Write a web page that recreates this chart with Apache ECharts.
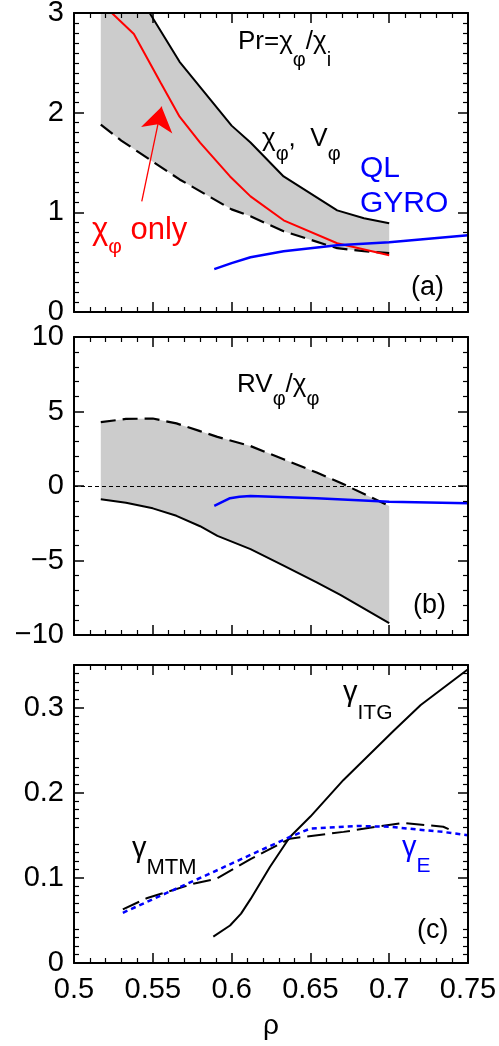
<!DOCTYPE html>
<html>
<head>
<meta charset="utf-8">
<script src="https://cdn.jsdelivr.net/npm/echarts@6/dist/echarts.min.js"></script>
<style>
  html, body { margin: 0; padding: 0; background: #fff; }
  #chart { width: 499px; height: 1046px; }
</style>
</head>
<body>
<div id="chart"></div>
<script>
// ---- panel (a): Pr = chi_phi / chi_i ----
const aBandX    = [0.517, 0.53, 0.548, 0.567, 0.6, 0.612, 0.633, 0.667, 0.684, 0.7];
const aBandLow  = [1.88, 1.72, 1.53, 1.33, 1.03, 0.96, 0.81, 0.64, 0.61, 0.59];   // dashed
const aBandHigh = [3.95, 3.5, 3.0, 2.51, 1.87, 1.70, 1.36, 1.02, 0.94, 0.89];     // solid
const aChiOnlyX = [0.517, 0.524, 0.538, 0.555, 0.567, 0.58, 0.599, 0.612, 0.633, 0.667, 0.7];
const aChiOnly  = [3.1, 3.0, 2.79, 2.30, 1.96, 1.70, 1.36, 1.16, 0.92, 0.69, 0.57];
const aGyroX    = [0.589, 0.6, 0.612, 0.633, 0.667, 0.7, 0.725, 0.75];
const aGyro     = [0.43, 0.49, 0.55, 0.61, 0.67, 0.70, 0.735, 0.77];
const aArrowFrom = [0.543, 1.11];
const aArrowTo   = [0.5556, 2.06];

// ---- panel (b): R V_phi / chi_phi ----
const bBandX    = [0.517, 0.533, 0.55, 0.565, 0.58, 0.591, 0.612, 0.633, 0.654, 0.669, 0.7];
const bBandHigh = [4.29, 4.5, 4.53, 4.2, 3.68, 3.3, 2.68, 1.79, 0.9, 0.22, -1.34];   // dashed
const bBandLow  = [-0.89, -1.12, -1.5, -2.0, -2.7, -3.35, -4.24, -5.35, -6.47, -7.3, -9.2]; // solid
const bGyroX    = [0.589, 0.599, 0.605, 0.612, 0.654, 0.7, 0.75];
const bGyro     = [-1.34, -0.82, -0.72, -0.67, -0.82, -1.05, -1.16];

// ---- panel (c): growth rates ----
const cItgX = [0.5884, 0.599, 0.606, 0.612, 0.6244, 0.637, 0.65, 0.671, 0.703, 0.72, 0.75];
const cItg  = [0.031, 0.044, 0.058, 0.075, 0.113, 0.148, 0.172, 0.215, 0.273, 0.303, 0.345];
const cMtmX = [0.531, 0.546, 0.5757, 0.5905, 0.612, 0.637, 0.671, 0.692, 0.709, 0.7343, 0.738];
const cMtm  = [0.063, 0.076, 0.093, 0.099, 0.122, 0.146, 0.154, 0.160, 0.1645, 0.160, 0.157];
const cEX   = [0.531, 0.5585, 0.585, 0.612, 0.637, 0.65, 0.68, 0.70, 0.734, 0.75];
const cE    = [0.059, 0.082, 0.104, 0.127, 0.148, 0.158, 0.161, 0.160, 0.154, 0.150];
const cTicks = [0, 0.1, 0.2, 0.3];

const FONT = '"Liberation Sans", Arial, Helvetica, sans-serif';
const BLUE = '#0000ff', RED = '#ff0000';

const pts = (xs, ys) => xs.map((x, i) => [x, ys[i]]);
const minus = v => (v < 0 ? '\u2212' + Math.abs(v) : String(v));

function xAxes (grid, showLabels) {
  const base = {
    type: 'value', gridIndex: grid, min: 0.5, max: 0.75, interval: 0.05, z: 10,
    axisLine: { show: true, onZero: false, lineStyle: { color: '#000', width: 2 } },
    axisTick: { show: true, inside: true, length: 10, lineStyle: { color: '#000', width: 1.5 } },
    minorTick: { show: true, splitNumber: 5, length: 5, lineStyle: { color: '#000', width: 1.2 } },
    splitLine: { show: false }
  };
  const bottom = Object.assign({}, base, {
    position: 'bottom',
    axisLabel: showLabels
      ? { show: true, color: '#000', fontSize: 29, fontFamily: FONT, margin: 12 }
      : { show: false }
  });
  if (showLabels) {
    Object.assign(bottom, {
      name: 'ρ', nameLocation: 'middle', nameGap: 49,
      nameTextStyle: { color: '#000', fontSize: 28, fontFamily: FONT }
    });
  }
  const top = Object.assign({}, base, { position: 'top', axisLabel: { show: false } });
  return [bottom, top];
}

function yAxes (grid, opt) {
  const base = Object.assign({
    type: 'value', gridIndex: grid, z: 10,
    axisLine: { show: true, onZero: false, lineStyle: { color: '#000', width: 2 } },
    axisTick: Object.assign({ show: true, inside: true, length: 10, lineStyle: { color: '#000', width: 1.5 } }, opt.tick || {}),
    minorTick: { show: true, splitNumber: opt.minor, length: 5, lineStyle: { color: '#000', width: 1.2 } },
    splitLine: { show: false }
  }, { min: opt.min, max: opt.max, interval: opt.interval });
  const left = Object.assign({}, base, {
    position: 'left',
    axisLabel: Object.assign({ show: true, color: '#000', fontSize: 29, fontFamily: FONT, margin: 10, formatter: minus }, opt.label || {})
  });
  const right = Object.assign({}, base, { position: 'right', axisLabel: { show: false } });
  return [left, right];
}

function line (xs, ys, xi, style, z) {
  return {
    type: 'line', xAxisIndex: xi, yAxisIndex: xi, data: pts(xs, ys),
    symbol: 'none', showSymbol: false, silent: true, clip: true,
    lineStyle: style, z: z || 4
  };
}

// grey region between two curves, drawn as one polygon through the axes
function band (xs, lo, hi, xi) {
  return {
    type: 'custom', xAxisIndex: xi, yAxisIndex: xi, silent: true, z: 1, clip: true,
    data: [[xs[0], lo[0]]],
    renderItem: function (params, api) {
      const poly = xs.map((x, i) => api.coord([x, lo[i]]))
        .concat(xs.map((x, i) => api.coord([x, hi[i]])).reverse());
      const cs = params.coordSys;
      return {
        type: 'polygon',
        shape: { points: echarts.graphic.clipPointsByRect(poly, { x: cs.x, y: cs.y, width: cs.width, height: cs.height }) },
        style: { fill: '#cccccc' }
      };
    }
  };
}

// label with subscripts: parts = [[text, isSub], ...]; x = left, base = baseline
function label (x, base, size, subSize, drop, parts, color) {
  const fill = color || '#000';
  return {
    type: 'text', x: x, y: base - 0.81 * size, z: 50, silent: true,
    style: {
      text: parts.map(p => '{' + (p[1] ? 's' : 'm') + '|' + p[0] + '}').join(''),
      verticalAlign: 'top', align: 'left',
      rich: {
        m: { fontSize: size, fontFamily: FONT, fill: fill, verticalAlign: 'bottom', padding: [0, 0, drop, 0] },
        s: { fontSize: subSize, fontFamily: FONT, fill: fill, verticalAlign: 'bottom' }
      }
    }
  };
}
function txt (x, base, text, size, color) {
  return {
    type: 'text', x: x, y: base - 0.81 * size, z: 50, silent: true,
    style: { text: text, fill: color || '#000', font: size + 'px ' + FONT, verticalAlign: 'top', align: 'left' }
  };
}

const grids = [
  { left: 74, right: 31, top: 13, height: 299, outerBoundsMode: 'none' },
  { left: 74, right: 31, top: 337, height: 298, outerBoundsMode: 'none' },
  { left: 74, right: 31, top: 665, height: 298, outerBoundsMode: 'none' }
];

const xAxis = [].concat(xAxes(0, false), xAxes(1, false), xAxes(2, true));
const yAxis = [].concat(
  yAxes(0, { min: 0, max: 3, interval: 1, minor: 10 }),
  yAxes(1, { min: -10, max: 10, interval: 5, minor: 5 }),
  yAxes(2, { min: 0, max: 0.35, interval: 0.05, minor: 5,
    tick: { customValues: cTicks }, label: { customValues: cTicks, formatter: v => String(v) } })
);
// series on grid 1 / 2 use axis index 2 / 4
const solid = { color: '#000', width: 2, type: 'solid' };
const dashed = { color: '#000', width: 2.2, type: [15, 7] };

const series = [
  band(aBandX, aBandLow, aBandHigh, 0),
  line(aBandX, aBandHigh, 0, solid),
  line(aBandX, aBandLow, 0, dashed),
  line(aChiOnlyX, aChiOnly, 0, { color: RED, width: 2 }, 5),
  line(aGyroX, aGyro, 0, { color: BLUE, width: 2.5 }, 6),
  {
    type: 'lines', coordinateSystem: 'cartesian2d', xAxisIndex: 0, yAxisIndex: 0,
    data: [{ coords: [aArrowFrom, aArrowTo] }],
    symbol: ['none', 'arrow'], symbolSize: 24, silent: true, z: 7,
    lineStyle: { color: RED, width: 1.3, opacity: 1, curveness: 0 }
  },

  band(bBandX, bBandLow, bBandHigh, 2),
  line(bBandX, bBandLow, 2, solid),
  line(bBandX, bBandHigh, 2, dashed),
  Object.assign(line(bGyroX, bGyro, 2, { color: BLUE, width: 2.5 }, 6), {
    markLine: {
      silent: true, symbol: 'none', label: { show: false }, z: 3,
      lineStyle: { color: '#000', width: 1, type: [4, 3] },
      data: [{ yAxis: 0 }]
    }
  }),

  line(cItgX, cItg, 4, solid),
  line(cMtmX, cMtm, 4, { color: '#000', width: 2, type: [18, 7] }),
  line(cEX, cE, 4, { color: BLUE, width: 2.5, type: [5, 4] }, 6)
];

const graphic = [
  // (a)
  label(238, 50, 26, 20, 16, [['Pr=χ'], ['φ', 1], ['/χ'], ['i', 1]]),
  label(262, 147, 26, 20, 13, [['χ'], ['φ', 1], [',  V'], ['φ', 1]]),
  txt(360, 178, 'QL', 30, BLUE), txt(360, 213, 'GYRO', 30, BLUE),
  label(92, 240, 31, 21, 12, [['χ'], ['φ', 1], [' only']], RED),
  txt(411, 296, '(a)', 27),
  // (b)
  label(237, 393, 26, 20, 12, [['RV'], ['φ', 1], ['/χ'], ['φ', 1]]),
  txt(413, 614, '(b)', 27),
  // (c)
  label(343, 702, 29, 21, 16, [['γ'], ['ITG', 1]]),
  label(132, 858, 29, 22, 15, [['γ'], ['MTM', 1]]),
  label(402, 857, 29, 21, 14, [['γ'], ['E', 1]], BLUE),
  txt(417, 939, '(c)', 27)
];

const chart = echarts.init(document.getElementById('chart'), null, { renderer: 'canvas' });
chart.setOption({
  animation: false,
  backgroundColor: '#fff',
  grid: grids,
  xAxis: xAxis,
  yAxis: yAxis,
  series: series,
  graphic: graphic
});
</script>
</body>
</html>
